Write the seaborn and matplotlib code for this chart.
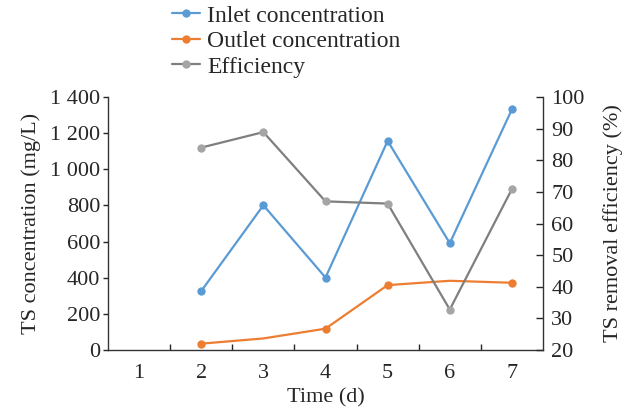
import matplotlib
matplotlib.use("Agg")
import matplotlib.pyplot as plt
from matplotlib.ticker import FuncFormatter, FixedLocator
from matplotlib.lines import Line2D
import seaborn as sns
import pandas as pd

days = [2, 3, 4, 5, 6, 7]
day_labels = ["1", "2", "3", "4", "5", "6", "7"]
inlet = [326, 801, 401, 1157, 591, 1332]
outlet = [35, 64, 118, 359, 383, 372]
efficiency = [84.0, 88.9, 67.0, 66.3, 32.8, 70.9]

df = pd.DataFrame({"day": days, "inlet": inlet, "outlet": outlet, "eff": efficiency})

sns.set_theme(style="white")
plt.rcParams["font.family"] = ["Liberation Serif", "DejaVu Serif"]
plt.rcParams["axes.linewidth"] = 1.0

c_in, c_out, c_eff, c_effm = "#5B9BD5", "#ED7D31", "#7F7F7F", "#A5A5A5"
tick_fs, label_fs, legend_fs = 16, 16, 17

fig = plt.figure(figsize=(6.34, 4.12), dpi=100)
ax = fig.add_axes([108 / 634, 1 - 350 / 412, 435 / 634, 253 / 412])
ax2 = ax.twinx()

sns.lineplot(data=df, x="day", y="inlet", ax=ax, color=c_in, lw=1.6,
             marker="o", markersize=6, markeredgewidth=0, markerfacecolor=c_in)
sns.lineplot(data=df, x="day", y="outlet", ax=ax, color=c_out, lw=1.6,
             marker="o", markersize=6, markeredgewidth=0, markerfacecolor=c_out,
             markevery=[0, 2, 3, 5])
sns.lineplot(data=df, x="day", y="eff", ax=ax2, color=c_eff, lw=1.6,
             marker="o", markersize=6, markeredgewidth=0, markerfacecolor=c_effm)

ax.set_xlim(0.5, 7.5)
ax.set_ylim(0, 1400)
ax2.set_ylim(20, 100)

ax.set_xticks(range(1, 8))
ax.set_xticklabels(day_labels)
ax.xaxis.set_minor_locator(FixedLocator([1.5, 2.5, 3.5, 4.5, 5.5, 6.5]))
ax.tick_params(axis="x", which="major", length=0, labelsize=tick_fs, pad=10)
ax.tick_params(axis="x", which="minor", direction="in", length=4.5, width=1, bottom=True)

ax.set_yticks(range(0, 1401, 200))
ax.yaxis.set_major_formatter(FuncFormatter(lambda v, p: f"{int(v):,}".replace(",", " ")))
ax.tick_params(axis="y", direction="out", length=3.5, width=1, labelsize=tick_fs, left=True, pad=2)

ax2.set_yticks(range(20, 101, 10))
ax2.tick_params(axis="y", direction="in", length=5, width=1, labelsize=tick_fs, right=True, pad=6)

for a in (ax, ax2):
    a.spines["top"].set_visible(False)
    for s in a.spines.values():
        s.set_color("#333333")
ax.spines["right"].set_visible(False)
ax2.spines["left"].set_visible(False)
ax2.spines["bottom"].set_visible(False)

ax.set_xlabel("Time (d)", fontsize=label_fs, labelpad=4)
ax.set_ylabel("TS concentration (mg/L)", fontsize=label_fs, labelpad=7)
ax2.set_ylabel("TS removal efficiency (%)", fontsize=label_fs, labelpad=13)

handles = [
    Line2D([], [], color=c_in, lw=1.6, marker="o", markersize=6, markeredgewidth=0),
    Line2D([], [], color=c_out, lw=1.6, marker="o", markersize=6, markeredgewidth=0),
    Line2D([], [], color=c_eff, lw=1.6, marker="o", markersize=6, markeredgewidth=0,
           markerfacecolor=c_effm),
]
fig.legend(handles, ["Inlet concentration", "Outlet concentration", "Efficiency"],
           loc="upper left", bbox_to_anchor=(172 / 634, 1 - 5 / 412), frameon=False,
           fontsize=legend_fs, handlelength=1.2, handletextpad=0.3, labelspacing=0.17,
           borderpad=0, borderaxespad=0)

fig.savefig("out.png", dpi=100)
